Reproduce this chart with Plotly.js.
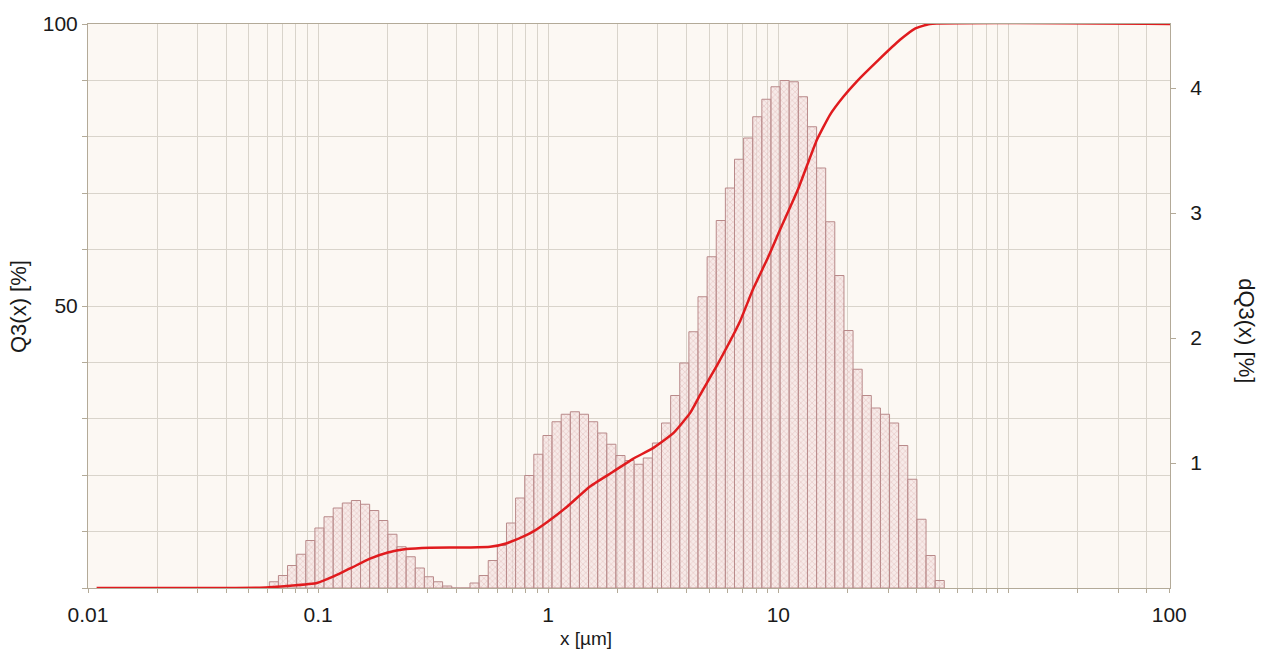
<!DOCTYPE html>
<html>
<head>
<meta charset="utf-8">
<script src="https://cdn.plot.ly/plotly-3.0.1.min.js"></script>
<style>html,body{margin:0;padding:0;background:#fff;}#chart{width:1262px;height:649px;}</style>
</head>
<body>
<div id="chart"></div>
<script>
// Particle size classes (bin edges, µm)
const binEdges = [0.06137,0.06722,0.07365,0.08069,0.08841,0.09685,0.1061,0.1163,0.1274,0.1395,
  0.1529,0.1675,0.1835,0.2010,0.2202,0.2413,0.2644,0.2896,0.3173,0.3476,
  0.3809,0.4173,0.4571,0.5008,0.5487,0.6011,0.6586,0.7215,0.7905,0.8660,
  0.9488,1.039,1.139,1.248,1.367,1.497,1.641,1.797,1.969,2.157,
  2.363,2.589,2.837,3.108,3.405,3.730,4.087,4.478,4.906,5.374,
  5.888,6.451,7.067,7.742,8.482,9.293,10.18,11.15,12.22,13.39,
  14.67,16.07,17.60,19.29,21.13,23.15,25.36,27.79,30.44,33.35,
  36.54,40.03,43.86,48.05,52.64];
// dQ3(x) [%] per class (right axis)
const dQ3 = [0.05,0.10,0.18,0.27,0.38,0.48,0.57,0.64,0.68,0.70,
  0.67,0.62,0.54,0.43,0.33,0.25,0.16,0.09,0.05,0.016,
  0,0,
  0.04,0.10,0.22,0.34,0.52,0.72,0.90,1.07,1.22,1.33,1.39,1.41,1.39,1.33,1.24,1.15,1.06,1.02,0.99,1.04,1.16,1.32,1.54,
  1.80,2.05,2.33,2.65,2.94,3.20,3.43,3.60,3.77,3.91,4.01,4.06,4.05,3.93,3.69,3.36,2.93,2.50,2.06,1.75,
  1.54,1.44,1.39,1.32,1.14,0.87,0.55,0.26,0.06];
// Cumulative Q3(x) [%] curve (left axis)
const q3Size = [0.0109,0.0559,0.0755,0.099,0.116,0.140,0.168,0.201,0.241,0.306,
  0.457,0.559,0.656,0.777,0.859,0.998,1.207,1.519,1.912,2.336,
  2.854,3.487,4.133,4.567,5.47,6.82,7.77,9.02,10.17,12.21,
  14.69,16.77,19.17,21.91,27.21,33.81,39.27,45.63,504];
const q3Value = [0,0.05,0.4,0.9,2.0,3.6,5.2,6.3,6.9,7.15,
  7.2,7.3,7.9,9.1,10.0,11.8,14.4,18.0,20.6,22.9,
  24.8,27.4,31.0,34.2,39.8,47.3,53.0,58.6,63.5,70.8,
  79.4,83.9,87.1,89.8,93.6,97.2,99.2,100,100];
// Axis tick labels
const xTickVals = [0.01,0.1,1,10,500];
const xTickText = ['0.01','0.1','1','10','100'];
const q3TickVals = [0,10,20,30,40,50,60,70,80,90,100];
const q3TickText = ['','','','','','50','','','','','100'];
const dq3TickVals = [1,2,3,4];
const xTitle = 'x [µm]';
const q3Title = 'Q3(x) [%]';
const dq3Title = 'dQ3(x) [%]';

const mids = [], widths = [];
for (let i = 0; i < dQ3.length; i++) {
  mids.push((binEdges[i] + binEdges[i+1]) / 2);
  widths.push(binEdges[i+1] - binEdges[i]);
}

const FONT = 'Liberation Sans, Arial, sans-serif';
const gridC = '#d9d4cb';
const lineC = '#b3aa98';
const xRange = [-2, 2.7023];

const bars = {
  type: 'bar', x: mids, y: dQ3, width: widths,
  xaxis: 'x', yaxis: 'y',
  marker: {
    color: 'rgba(238,214,214,0.6)',
    line: {color: '#b98a8a', width: 1},
    pattern: {shape: 'x', fgcolor: 'rgba(200,140,140,0.55)', bgcolor: 'rgba(242,222,222,0.55)', size: 4, solidity: 0.2}
  },
  hoverinfo: 'skip', showlegend: false
};
const curve = {
  type: 'scatter', mode: 'lines', x: q3Size, y: q3Value,
  xaxis: 'x', yaxis: 'y2',
  line: {color: '#e01b1e', width: 2.5, shape: 'spline', smoothing: 0.4},
  hoverinfo: 'skip', showlegend: false
};
const dummy = {
  type: 'scatter', mode: 'markers', x: [1], y: [0], xaxis: 'x2', yaxis: 'y',
  marker: {opacity: 0}, hoverinfo: 'skip', showlegend: false
};

const layout = {
  width: 1262, height: 649,
  margin: {l: 88, r: 92, t: 24, b: 61},
  paper_bgcolor: '#ffffff', plot_bgcolor: '#fcf8f3',
  font: {family: FONT, size: 21, color: '#1a1a1a'},
  bargap: 0,
  xaxis: {
    type: 'log', range: xRange, dtick: 'D1', showticklabels: false,
    showgrid: true, gridcolor: gridC, gridwidth: 1,
    showline: true, linecolor: lineC, linewidth: 1, mirror: true,
    ticks: 'outside', ticklen: 4, tickcolor: lineC, zeroline: false
  },
  xaxis2: {
    type: 'log', range: xRange, overlaying: 'x', anchor: 'y', side: 'bottom',
    tickmode: 'array', tickvals: xTickVals, ticktext: xTickText,
    showgrid: false, showline: false, ticks: '', ticklabelstandoff: 12,
    tickfont: {family: FONT, size: 21, color: '#1a1a1a'}
  },
  yaxis: {
    side: 'right', range: [0, 4.512], tickmode: 'array', tickvals: dq3TickVals,
    showgrid: false, zeroline: false, showline: true, linecolor: lineC, linewidth: 1,
    ticks: 'outside', ticklen: 5, tickcolor: lineC, ticklabelstandoff: 10,
    tickfont: {family: FONT, size: 21, color: '#1a1a1a'}
  },
  yaxis2: {
    overlaying: 'y', side: 'left', range: [0, 100], tickmode: 'array',
    tickvals: q3TickVals, ticktext: q3TickText,
    showgrid: true, gridcolor: gridC, gridwidth: 1, zeroline: false,
    showline: true, linecolor: lineC, linewidth: 1,
    ticks: 'outside', ticklen: 5, tickcolor: lineC,
    tickfont: {family: FONT, size: 21, color: '#1a1a1a'}
  },
  annotations: [
    {text: xTitle, xref: 'paper', yref: 'paper', x: 0.4603, y: 0, yanchor: 'top', xanchor: 'center',
     yshift: -38, showarrow: false, font: {family: FONT, size: 19, color: '#1a1a1a'}},
    {text: q3Title, xref: 'paper', yref: 'paper', x: -0.0647, y: 0.5, xanchor: 'center', yanchor: 'middle',
     textangle: -90, showarrow: false, font: {family: FONT, size: 22, color: '#1a1a1a'}},
    {text: dq3Title, xref: 'paper', yref: 'paper', x: 1.0712, y: 0.457, xanchor: 'center', yanchor: 'middle',
     textangle: 90, showarrow: false, font: {family: FONT, size: 22, color: '#1a1a1a'}}
  ]
};

Plotly.newPlot('chart', [bars, curve, dummy], layout, {displayModeBar: false, staticPlot: true});
</script>
</body>
</html>
